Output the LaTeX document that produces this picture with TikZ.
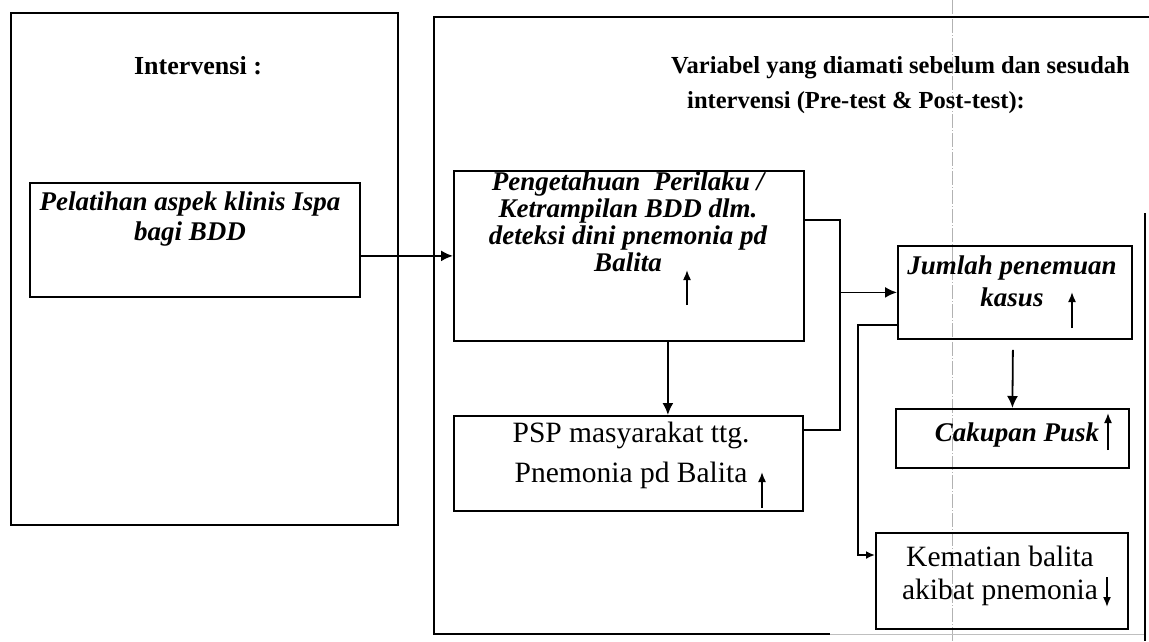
\documentclass[tikz,border=0pt]{standalone}
\usepackage{fontspec}
\setmainfont{Liberation Serif}
\usetikzlibrary{arrows.meta,calc}
\tikzset{
  box/.style={draw, line width=1.8pt, inner sep=0pt, anchor=north west},
  conn/.style={line width=1.8pt},
  arr/.style={conn, -{Latex[length=12pt,width=11pt]}},
  arrs/.style={conn, -{Latex[length=9pt,width=8pt]}},
  sym/.style={line width=1.6pt, -{Latex[length=10pt,width=8pt]}},
  ttl/.style={font=\fontsize{24.5}{30}\selectfont\bfseries, inner sep=0pt},
  bi/.style={font=\fontsize{27}{27}\selectfont\bfseries\itshape, inner sep=0pt, align=center},
  rg/.style={font=\fontsize{29.5}{40}\selectfont, inner sep=0pt, align=center},
}
\begin{document}
\begin{tikzpicture}[x=1pt,y=-1pt]
\useasboundingbox[fill=white] (0,0) rectangle (1149,641);
% scan line
\draw[gray!60, line width=0.6pt, dash pattern=on 14pt off 2pt on 1pt off 2pt] (952,0) -- (952,641);
% outer frames
\node[box, minimum width=387pt, minimum height=512pt] (leftbox) at (10,12) {};
\draw[conn] (1149,17) -- (434,17) -- (434,634) -- (830,634);
\draw[gray!50, line width=0.8pt] (830,634) -- (1145,634);
\draw[conn] (1145,213) -- (1145,641);
% boxes
\node[box, minimum width=330pt, minimum height=114pt] (pel) at (29,182) {};
\node[box, minimum width=350pt, minimum height=170pt] (peng) at (453,170) {};
\node[box, minimum width=349pt, minimum height=95pt] (psp) at (453,415) {};
\node[box, minimum width=234pt, minimum height=93pt] (jum) at (897,245) {};
\node[box, minimum width=233pt, minimum height=59pt] (cak) at (895,408) {};
\node[box, minimum width=252pt, minimum height=96pt] (kem) at (875,532) {};
% titles
\node[font=\fontsize{26}{30}\selectfont\bfseries, inner sep=0pt, anchor=base] (intv) at (198,74) {Intervensi :};
\node[ttl, anchor=base west] (t1) at (671,73.5) {Variabel yang diamati sebelum dan sesudah};
\node[ttl, anchor=base west] (t2) at (687,108.5) {intervensi (Pre-test \& Post-test):};
% box texts
\node[bi, font=\fontsize{27}{29}\selectfont\bfseries\itshape] (pelt) at (190,219) {Pelatihan aspek klinis Ispa\\bagi BDD};
\node[bi] (pengt) at (628,222) {Pengetahuan\ \ Perilaku /\\Ketrampilan BDD dlm.\\deteksi dini pnemonia pd\\Balita};
\node[rg] (pspt) at (631,455) {PSP masyarakat ttg.\\Pnemonia pd Balita};
\node[bi, font=\fontsize{27}{32}\selectfont\bfseries\itshape] (jumt) at (1012,281) {Jumlah penemuan\\kasus};
\node[bi, anchor=base] (cakt) at (1017,441) {Cakupan Pusk};
\node[rg, font=\fontsize{29.5}{33}\selectfont] (kemt) at (1000,576) {Kematian balita\\akibat pnemonia};
% trend arrows
\draw[sym] (687,305) -- (687,270);
\draw[sym] (762,508) -- (762,472);
\draw[sym] (1072,328) -- (1072,292);
\draw[sym] (1108,450) -- (1108,413);
\draw[sym] (1107,577) -- (1107,607);
% connectors
\coordinate (bustop) at (840,220);
\coordinate (busbot) at (840,430);
\coordinate (k1) at (858,325);
\coordinate (k2) at (858,555);
\draw[arr] (pel.east |- peng.west) -- (peng.west);
\draw[conn] (peng.east |- bustop) -- (bustop) -- (busbot) -- (psp.east |- busbot);
\draw[arr] (bustop |- jum.west) -- (jum.west);
\draw[arr] ($(peng.south)+(39,0)$) -- ($(psp.north)+(39.5,0)$);
\draw[arrs] (jum.west |- k1) -- (k1) -- (k2) -- (kem.west |- k2);
\draw[arr] ($(jum.south)+(-2,10)$) -- (cak.north);
\end{tikzpicture}
\end{document}
